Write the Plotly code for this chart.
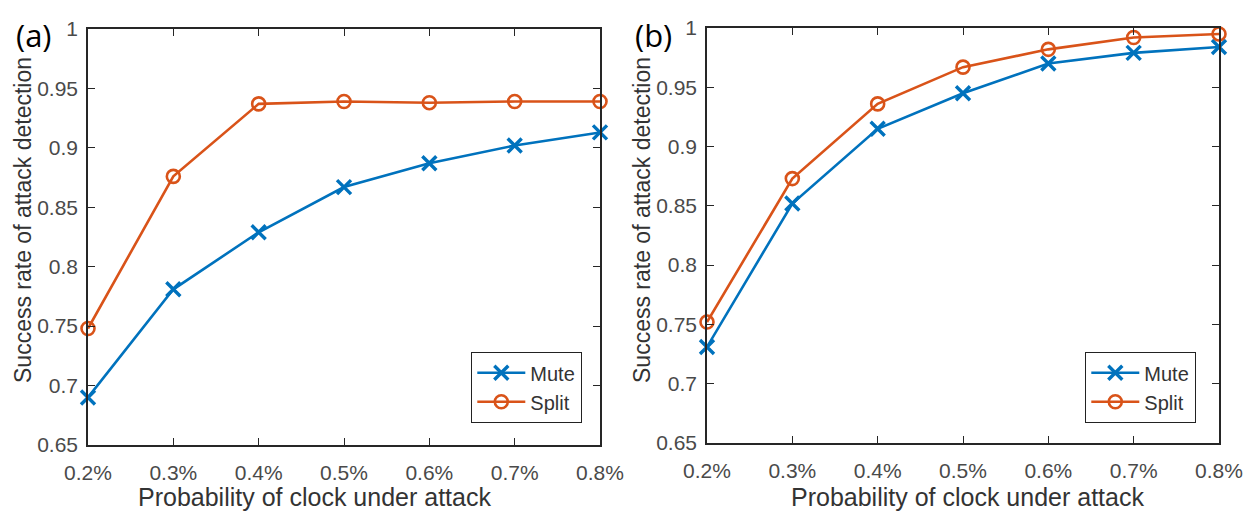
import plotly.graph_objects as go

# ---- data ----
x_labels = ["0.2%", "0.3%", "0.4%", "0.5%", "0.6%", "0.7%", "0.8%"]
a_mute = [0.690, 0.781, 0.829, 0.867, 0.887, 0.902, 0.913]
a_split = [0.748, 0.876, 0.937, 0.939, 0.938, 0.939, 0.939]
b_mute = [0.731, 0.852, 0.915, 0.945, 0.970, 0.979, 0.984]
b_split = [0.752, 0.873, 0.936, 0.967, 0.982, 0.992, 0.995]
y_ticks = [0.65, 0.7, 0.75, 0.8, 0.85, 0.9, 0.95, 1.0]
y_tick_labels = ["0.65", "0.7", "0.75", "0.8", "0.85", "0.9", "0.95", "1"]
series_names = ["Mute", "Split"]
x_title = "Probability of clock under attack"
y_title = "Success rate of attack detection"
panel_labels = ["(a)", "(b)"]

W, H = 1256, 513
OFF = 8  # page body margin
BLUE = "#0072BD"
ORANGE = "#D95319"
FONT = "Liberation Sans"

fig = go.Figure()

def add_series(xa, ya, mute, split, legend):
    fig.add_trace(go.Scatter(
        x=x_labels, y=mute, name=series_names[0], mode="lines+markers",
        xaxis=xa, yaxis=ya, legend=legend, cliponaxis=False,
        line=dict(color=BLUE, width=2.6),
        marker=dict(symbol="x-thin", size=14, line=dict(color=BLUE, width=3.4), color=BLUE)))
    fig.add_trace(go.Scatter(
        x=x_labels, y=split, name=series_names[1], mode="lines+markers",
        xaxis=xa, yaxis=ya, legend=legend, cliponaxis=False,
        line=dict(color=ORANGE, width=2.6),
        marker=dict(symbol="circle-open", size=13, line=dict(color=ORANGE, width=2.6), color=ORANGE)))

add_series("x", "y", a_mute, a_split, "legend")
add_series("x2", "y2", b_mute, b_split, "legend2")

def px_x(p):
    return (p - OFF) / W

def px_y(p):
    return 1 - (p - OFF) / H

axis_common = dict(
    showline=True, linecolor="#262626", linewidth=1.5, mirror="ticks",
    ticks="inside", ticklen=7, tickwidth=1.3, tickcolor="#262626",
    showgrid=False, zeroline=False, automargin=False,
    tickfont=dict(family=FONT, size=21, color="#4a4a4a"),
)

xa = dict(axis_common, type="category", range=[0, 6], ticklabelstandoff=8)
ya = dict(axis_common, range=[0.65, 1.0], tickvals=y_ticks, ticktext=y_tick_labels,
          ticklabelstandoff=4)

legend_common = dict(xanchor="right", yanchor="bottom",
                     bordercolor="#222222", borderwidth=1.3, bgcolor="white",
                     font=dict(family=FONT, size=20, color="#333333"),
                     tracegroupgap=0, itemwidth=48)

fig.update_layout(
    template="none",
    width=W, height=H,
    margin=dict(l=0, r=0, t=0, b=0, autoexpand=False),
    paper_bgcolor="white", plot_bgcolor="white",
    font=dict(family=FONT),
    showlegend=True,
    xaxis=dict(xa, domain=[px_x(88), px_x(600)], anchor="y"),
    yaxis=dict(ya, domain=[px_y(445), px_y(29)], anchor="x"),
    xaxis2=dict(xa, domain=[px_x(707), px_x(1219)], anchor="y2"),
    yaxis2=dict(ya, domain=[px_y(443), px_y(28)], anchor="x2"),
    legend=dict(legend_common, x=px_x(582), y=px_y(423)),
    legend2=dict(legend_common, x=px_x(1196), y=px_y(423)),
)

annotations = []
for cx, ycx in [(314, 23), (967, 642)]:
    annotations.append(dict(text=x_title, x=px_x(cx), y=px_y(497), xref="paper", yref="paper",
                            showarrow=False, xanchor="center", yanchor="middle",
                            font=dict(family=FONT, size=25, color="#333333")))
    annotations.append(dict(text=y_title, x=px_x(ycx), y=px_y(220), xref="paper", yref="paper",
                            showarrow=False, xanchor="center", yanchor="middle", textangle=-90,
                            font=dict(family=FONT, size=23, color="#333333")))
for lbl, lx in zip(panel_labels, [34, 653]):
    annotations.append(dict(text=lbl, x=px_x(lx), y=px_y(35), xref="paper", yref="paper",
                            showarrow=False, xanchor="center", yanchor="middle",
                            font=dict(family="Open Sans", size=31, color="black")))
fig.update_layout(annotations=annotations)

fig.write_html("out.html")
